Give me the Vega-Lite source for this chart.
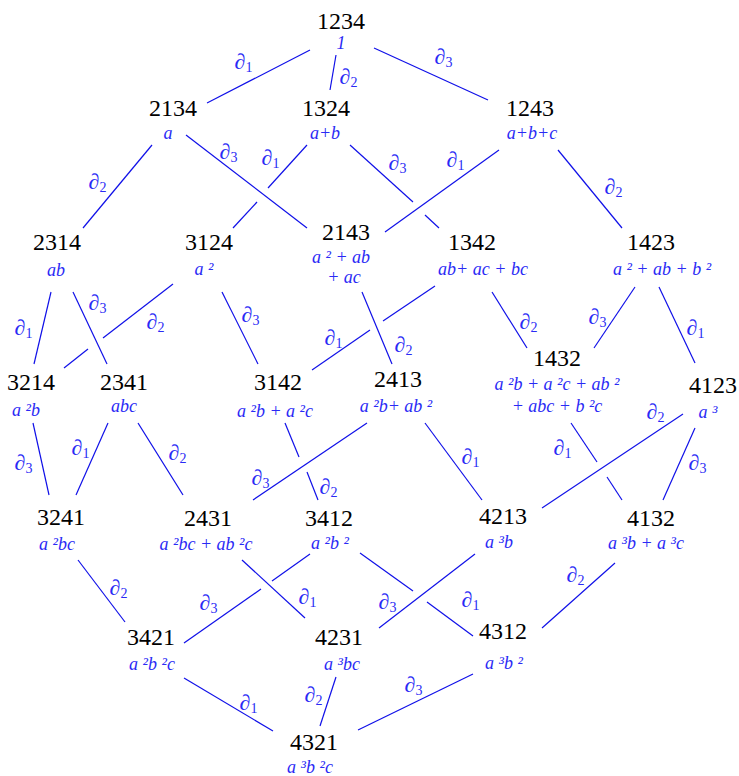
{
  "$schema": "https://vega.github.io/schema/vega-lite/v6.json",
  "width": 739,
  "height": 776,
  "padding": 0,
  "autosize": {"type": "none"},
  "background": "white",
  "config": {"view": {"stroke": null}, "text": {"font": "'Liberation Serif', 'Times New Roman', Times, serif"}},
  "datasets": {
    "edges": [
      {"x": 310, "y": 50, "x2": 207, "y2": 103},
      {"x": 336, "y": 55, "x2": 330, "y2": 90},
      {"x": 374, "y": 48, "x2": 488, "y2": 100},
      {"x": 152, "y": 145, "x2": 83, "y2": 228},
      {"x": 186, "y": 135, "x2": 307, "y2": 228},
      {"x": 307, "y": 145, "x2": 268, "y2": 188},
      {"x": 257, "y": 202, "x2": 233, "y2": 228},
      {"x": 350, "y": 145, "x2": 413, "y2": 202},
      {"x": 425, "y": 215, "x2": 439, "y2": 228},
      {"x": 499, "y": 150, "x2": 385, "y2": 232},
      {"x": 558, "y": 150, "x2": 622, "y2": 228},
      {"x": 51, "y": 292, "x2": 34, "y2": 364},
      {"x": 73, "y": 292, "x2": 107, "y2": 364},
      {"x": 173, "y": 284, "x2": 103, "y2": 338},
      {"x": 88, "y": 349, "x2": 64, "y2": 368},
      {"x": 222, "y": 292, "x2": 258, "y2": 364},
      {"x": 435, "y": 286, "x2": 383, "y2": 321},
      {"x": 370, "y": 330, "x2": 312, "y2": 370},
      {"x": 362, "y": 292, "x2": 392, "y2": 364},
      {"x": 492, "y": 292, "x2": 527, "y2": 348},
      {"x": 635, "y": 287, "x2": 594, "y2": 348},
      {"x": 659, "y": 287, "x2": 695, "y2": 363},
      {"x": 33, "y": 423, "x2": 49, "y2": 495},
      {"x": 108, "y": 423, "x2": 76, "y2": 495},
      {"x": 138, "y": 423, "x2": 183, "y2": 495},
      {"x": 285, "y": 423, "x2": 299, "y2": 457},
      {"x": 307, "y": 472, "x2": 318, "y2": 500},
      {"x": 367, "y": 423, "x2": 253, "y2": 500},
      {"x": 425, "y": 423, "x2": 482, "y2": 500},
      {"x": 571, "y": 423, "x2": 597, "y2": 462},
      {"x": 607, "y": 477, "x2": 622, "y2": 500},
      {"x": 683, "y": 414, "x2": 542, "y2": 508},
      {"x": 695, "y": 428, "x2": 663, "y2": 500},
      {"x": 78, "y": 560, "x2": 125, "y2": 622},
      {"x": 310, "y": 554, "x2": 272, "y2": 581},
      {"x": 261, "y": 589, "x2": 184, "y2": 643},
      {"x": 242, "y": 560, "x2": 305, "y2": 618},
      {"x": 360, "y": 553, "x2": 413, "y2": 591},
      {"x": 427, "y": 602, "x2": 473, "y2": 636},
      {"x": 475, "y": 554, "x2": 379, "y2": 628},
      {"x": 615, "y": 563, "x2": 542, "y2": 628},
      {"x": 184, "y": 678, "x2": 273, "y2": 731},
      {"x": 336, "y": 677, "x2": 320, "y2": 726},
      {"x": 473, "y": 674, "x2": 358, "y2": 730}
    ],
    "ops": [
      {"d": "1", "x": 243, "y": 62},
      {"d": "2", "x": 348, "y": 77},
      {"d": "3", "x": 443, "y": 57},
      {"d": "2", "x": 97, "y": 182},
      {"d": "3", "x": 228, "y": 152},
      {"d": "1", "x": 270, "y": 158},
      {"d": "3", "x": 397, "y": 163},
      {"d": "1", "x": 455, "y": 160},
      {"d": "2", "x": 613, "y": 187},
      {"d": "1", "x": 23, "y": 328},
      {"d": "3", "x": 97, "y": 303},
      {"d": "2", "x": 155, "y": 322},
      {"d": "3", "x": 250, "y": 315},
      {"d": "1", "x": 333, "y": 338},
      {"d": "2", "x": 403, "y": 345},
      {"d": "2", "x": 528, "y": 322},
      {"d": "3", "x": 597, "y": 317},
      {"d": "1", "x": 695, "y": 328},
      {"d": "3", "x": 23, "y": 463},
      {"d": "1", "x": 80, "y": 448},
      {"d": "2", "x": 177, "y": 453},
      {"d": "2", "x": 328, "y": 487},
      {"d": "3", "x": 260, "y": 478},
      {"d": "1", "x": 470, "y": 457},
      {"d": "1", "x": 562, "y": 448},
      {"d": "2", "x": 655, "y": 412},
      {"d": "3", "x": 697, "y": 463},
      {"d": "2", "x": 118, "y": 588},
      {"d": "3", "x": 208, "y": 603},
      {"d": "1", "x": 307, "y": 597},
      {"d": "1", "x": 248, "y": 703},
      {"d": "2", "x": 313, "y": 695},
      {"d": "1", "x": 470, "y": 600},
      {"d": "3", "x": 387, "y": 602},
      {"d": "2", "x": 575, "y": 575},
      {"d": "3", "x": 413, "y": 685}
    ],
    "perms": [
      {"p": "1234", "x": 341, "y": 22},
      {"p": "2134", "x": 173, "y": 109},
      {"p": "1324", "x": 326, "y": 109},
      {"p": "1243", "x": 530, "y": 109},
      {"p": "2314", "x": 57, "y": 243},
      {"p": "3124", "x": 209, "y": 243},
      {"p": "2143", "x": 346, "y": 233},
      {"p": "1342", "x": 472, "y": 243},
      {"p": "1423", "x": 651, "y": 243},
      {"p": "3214", "x": 31, "y": 383},
      {"p": "2341", "x": 124, "y": 383},
      {"p": "3142", "x": 278, "y": 383},
      {"p": "2413", "x": 398, "y": 380},
      {"p": "1432", "x": 557, "y": 359},
      {"p": "4123", "x": 713, "y": 386},
      {"p": "3241", "x": 61, "y": 518},
      {"p": "2431", "x": 208, "y": 519},
      {"p": "3412", "x": 329, "y": 519},
      {"p": "4213", "x": 503, "y": 517},
      {"p": "4132", "x": 651, "y": 519},
      {"p": "3421", "x": 151, "y": 638},
      {"p": "4231", "x": 339, "y": 638},
      {"p": "4312", "x": 503, "y": 632},
      {"p": "4321", "x": 314, "y": 743}
    ],
    "polys": [
      {"t": "1", "x": 341, "y": 44},
      {"t": "a", "x": 168, "y": 134},
      {"t": "a+b", "x": 325, "y": 134},
      {"t": "a+b+c", "x": 532, "y": 134},
      {"t": "ab", "x": 56, "y": 271},
      {"t": "a ²", "x": 204, "y": 270},
      {"t": "a ² + ab", "x": 341, "y": 258},
      {"t": "+ ac", "x": 344, "y": 278},
      {"t": "ab+ ac + bc", "x": 483, "y": 270},
      {"t": "a ² + ab + b ²", "x": 662, "y": 270},
      {"t": "a ²b", "x": 26, "y": 411},
      {"t": "abc", "x": 124, "y": 407},
      {"t": "a ²b + a ²c", "x": 275, "y": 412},
      {"t": "a ²b+ ab ²", "x": 396, "y": 407},
      {"t": "a ²b + a ²c + ab ²", "x": 557, "y": 385},
      {"t": "+ abc + b ²c", "x": 557, "y": 407},
      {"t": "a ³", "x": 708, "y": 413},
      {"t": "a ²bc", "x": 57, "y": 545},
      {"t": "a ²bc + ab ²c", "x": 206, "y": 545},
      {"t": "a ²b ²", "x": 330, "y": 544},
      {"t": "a ³b", "x": 499, "y": 543},
      {"t": "a ³b + a ³c", "x": 646, "y": 544},
      {"t": "a ²b ²c", "x": 152, "y": 665},
      {"t": "a ³bc", "x": 342, "y": 665},
      {"t": "a ³b ²", "x": 504, "y": 664},
      {"t": "a ³b ²c", "x": 310, "y": 768}
    ]
  },
  "encoding": {
    "x": {"field": "x", "type": "quantitative", "scale": {"domain": [0, 739], "nice": false, "zero": false}, "axis": null},
    "y": {"field": "y", "type": "quantitative", "scale": {"domain": [0, 776], "nice": false, "zero": false, "reverse": true}, "axis": null}
  },
  "layer": [
    {
      "data": {"name": "edges"},
      "mark": {"type": "rule", "color": "#1010e8", "strokeWidth": 1.2},
      "encoding": {"x2": {"field": "x2"}, "y2": {"field": "y2"}}
    },
    {
      "data": {"name": "ops"},
      "mark": {"type": "text", "text": "∂", "fontSize": 22, "color": "#2a2af5", "align": "center", "baseline": "middle", "dx": -3}
    },
    {
      "data": {"name": "ops"},
      "mark": {"type": "text", "fontSize": 14, "color": "#2a2af5", "align": "center", "baseline": "middle", "dx": 6, "dy": 6},
      "encoding": {"text": {"field": "d"}}
    },
    {
      "data": {"name": "perms"},
      "mark": {"type": "text", "fontSize": 24, "color": "#000000", "align": "center", "baseline": "middle"},
      "encoding": {"text": {"field": "p"}}
    },
    {
      "data": {"name": "polys"},
      "mark": {"type": "text", "fontStyle": "italic", "fontSize": 18, "color": "#2a2af5", "align": "center", "baseline": "middle"},
      "encoding": {"text": {"field": "t"}}
    }
  ]
}
